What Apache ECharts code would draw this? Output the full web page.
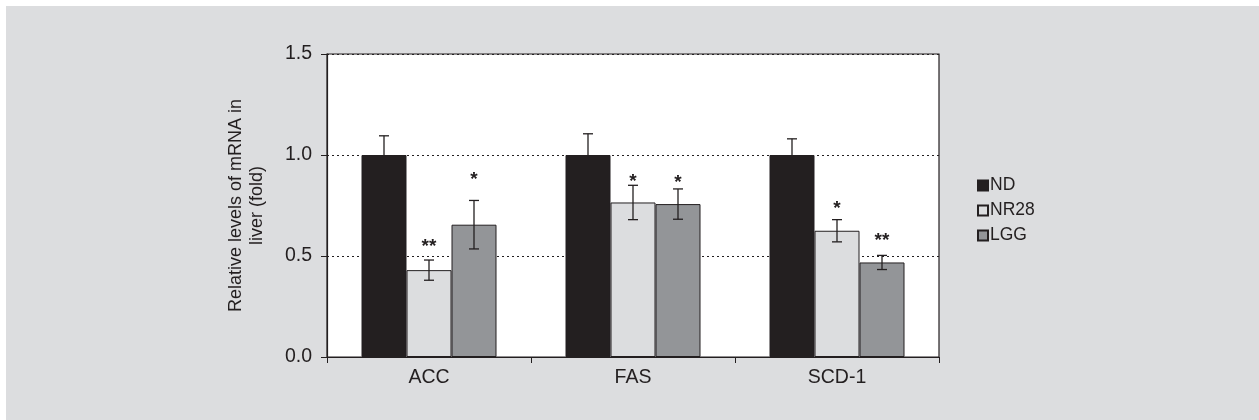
<!DOCTYPE html>
<html><head><meta charset="utf-8">
<script src="https://cdn.jsdelivr.net/npm/echarts@6/dist/echarts.min.js"></script>
<style>html,body{margin:0;padding:0;background:#fff;}#c{position:absolute;left:6px;top:6px;width:1253px;height:414px;}</style>
</head><body><div id="c"></div>
<script>
const categories = ['ACC', 'FAS', 'SCD-1'];
const seriesNames = ['ND', 'NR28', 'LGG'];
const ndValues = [1.0, 1.0, 1.0];
const ndErrors = [0.095, 0.105, 0.08];
const nr28Values = [0.43, 0.765, 0.625];
const nr28Errors = [0.05, 0.085, 0.055];
const lggValues = [0.655, 0.757, 0.468];
const lggErrors = [0.12, 0.075, 0.035];
const ndSig = ['', '', ''];
const nr28Sig = ['**', '*', '*'];
const lggSig = ['*', '*', '**'];
const ndSigLevel = [0, 0, 0];
const nr28SigLevel = [0.57, 0.89, 0.76];
const lggSigLevel = [0.9, 0.885, 0.6];
const yTickLabels = ['0.0', '0.5', '1.0', '1.5'];

const INK = '#231f20';
const FONT = '"Liberation Sans", Arial, sans-serif';
const BAR_W = 45;
const colors = ['#231f20', '#dcdddf', '#939598'];
const values = [ndValues, nr28Values, lggValues];
const errors = [ndErrors, nr28Errors, lggErrors];
const sigs = [ndSig, nr28Sig, lggSig];
const sigLevels = [ndSigLevel, nr28SigLevel, lggSigLevel];
const upOnly = [true, false, false];

const series = [];
seriesNames.forEach((name, i) => {
  series.push({
    name: name, type: 'bar', barWidth: BAR_W, barGap: '0%',
    itemStyle: { color: colors[i], borderColor: INK, borderWidth: 1 },
    data: values[i], z: 2
  });
});
seriesNames.forEach((name, i) => {
  series.push({
    type: 'custom', z: 5, silent: true,
    data: categories.map((c, k) => [k, values[i][k], errors[i][k], sigLevels[i][k]]),
    renderItem: function (params, api) {
      const k = api.value(0), v = api.value(1), e = api.value(2), sl = api.value(3);
      const s = sigs[i][params.dataIndex];
      const off = (i - 1) * BAR_W;
      const top = api.coord([k, v + e]);
      const bot = api.coord([k, upOnly[i] ? v : v - e]);
      const x = top[0] + off;
      const cap = 5;
      const style = { stroke: INK, lineWidth: 1.3, fill: null };
      const children = [
        { type: 'line', shape: { x1: x, y1: top[1], x2: x, y2: bot[1] }, style: style },
        { type: 'line', shape: { x1: x - cap, y1: top[1], x2: x + cap, y2: top[1] }, style: style }
      ];
      if (!upOnly[i]) children.push({ type: 'line', shape: { x1: x - cap, y1: bot[1], x2: x + cap, y2: bot[1] }, style: style });
      if (s) {
        const sp = api.coord([k, sl]);
        children.push({ type: 'text', style: { text: s, x: x, y: sp[1] + 5, align: 'center', verticalAlign: 'middle', font: 'bold 19px ' + FONT, fill: INK } });
      }
      return { type: 'group', children: children };
    }
  });
});

const chart = echarts.init(document.getElementById('c'));
chart.setOption({
  backgroundColor: '#dcdddf',
  animation: false,
  textStyle: { fontFamily: FONT, color: INK },
  grid: { left: 321, top: 48, right: 320, bottom: 63, show: true, backgroundColor: '#ffffff', borderColor: INK, borderWidth: 1.2 },
  legend: {
    orient: 'vertical', left: 966, top: 164, itemWidth: 10, itemHeight: 10, itemGap: 4, icon: 'rect',
    data: seriesNames,
    textStyle: { fontSize: 17.5, color: INK, fontFamily: FONT, lineHeight: 21, padding: [0, 0, 0, -3] }
  },
  xAxis: {
    type: 'category', data: categories,
    axisLine: { lineStyle: { color: INK, width: 1.2 } },
    axisTick: { show: true, inside: false, length: 6, lineStyle: { color: INK } },
    axisLabel: { fontSize: 19.5, color: INK, margin: 11, fontFamily: FONT }
  },
  yAxis: {
    type: 'value', min: 0, max: 1.5, interval: 0.5,
    name: 'Relative levels of mRNA in\nliver (fold)', nameLocation: 'middle', nameGap: 59, nameRotate: 90,
    nameTextStyle: { fontSize: 18, lineHeight: 21, color: INK, fontFamily: FONT },
    axisLine: { show: true, lineStyle: { color: INK, width: 1.2 } },
    axisTick: { show: true, inside: false, length: 6, lineStyle: { color: INK } },
    axisLabel: { fontSize: 19.5, color: INK, margin: 15, fontFamily: FONT, formatter: (v) => yTickLabels[Math.round(v / 0.5)] },
    splitLine: { show: true, lineStyle: { color: INK, type: [2, 3], width: 1 } }
  },
  series: series
});
</script></body></html>
